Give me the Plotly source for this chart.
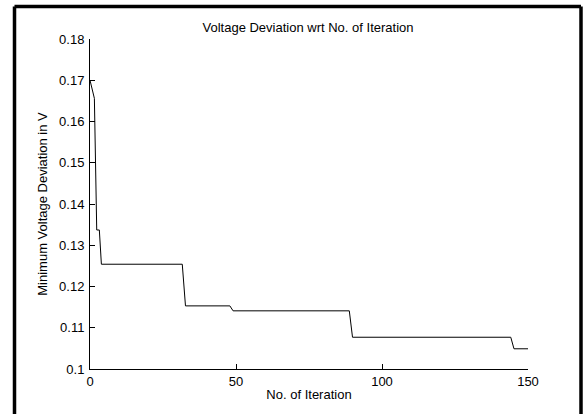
import plotly.graph_objects as go

# Breakpoints of the convergence curve (iteration, minimum voltage deviation)
iterations = [0, 1.5, 2.3, 3.2, 3.9, 31.6, 32.7, 47.9, 49.0, 88.8, 89.9, 144.1, 145.2, 150]
deviation = [0.1700, 0.1656, 0.1337, 0.1337, 0.1254, 0.1254, 0.1153, 0.1153,
             0.1141, 0.1141, 0.1077, 0.1077, 0.1049, 0.1049]

x_ticks = [0, 50, 100, 150]
y_ticks = [0.10, 0.11, 0.12, 0.13, 0.14, 0.15, 0.16, 0.17, 0.18]
y_tick_text = ["0.1", "0.11", "0.12", "0.13", "0.14", "0.15", "0.16", "0.17", "0.18"]

W, H = 584, 414
L, R, T, B = 90, 56, 39, 45
pw, ph = W - L - R, H - T - B

def px_x(p):
    return (p - L) / pw

def px_y(p):
    return (H - B - p) / ph

fig = go.Figure()
fig.add_trace(go.Scatter(x=iterations, y=deviation, mode="lines",
                         line=dict(color="black", width=1), showlegend=False))

font = dict(family="Liberation Sans, Arial, Helvetica, sans-serif", size=13, color="black")

fig.update_layout(
    width=W, height=H,
    margin=dict(l=L, r=R, t=T, b=B),
    paper_bgcolor="white", plot_bgcolor="white",
    font=font,
    title=dict(text="Voltage Deviation wrt No. of Iteration", x=px_x(308), xref="paper",
               xanchor="center", y=1 - 27 / H, yanchor="middle", font=font),
    xaxis=dict(range=[0, 150], tickvals=x_ticks, ticks="inside", ticklen=5, tickcolor="black",
               showline=True, linecolor="black", linewidth=1, showgrid=False, zeroline=False,
               tickfont=font,
               title=dict(text="No. of Iteration", font=font, standoff=2), mirror=False),
    yaxis=dict(range=[0.1, 0.18], tickvals=y_ticks, ticktext=y_tick_text, ticks="inside",
               ticklen=5, tickcolor="black", showline=True, linecolor="black", linewidth=1,
               showgrid=False, zeroline=False, tickfont=font, ticklabelstandoff=2,
               title=dict(text="Minimum Voltage Deviation in V", font=font, standoff=8)),
)

# outer black frame around the figure (left, top, right edges; bottom is off-canvas)
fx0, fx1, fy_top, fy_bot = px_x(14.5), px_x(581), px_y(6.5), px_y(414)
frame = dict(color="#000000", width=3.5)
fig.add_shape(type="line", xref="paper", yref="paper", x0=fx0, x1=fx0, y0=fy_bot, y1=fy_top,
              line=frame, layer="above")
fig.add_shape(type="line", xref="paper", yref="paper", x0=fx0, x1=fx1, y0=fy_top, y1=fy_top,
              line=frame, layer="above")
fig.add_shape(type="line", xref="paper", yref="paper", x0=fx1, x1=fx1, y0=fy_bot, y1=fy_top,
              line=frame, layer="above")

fig.write_html("out.html")
